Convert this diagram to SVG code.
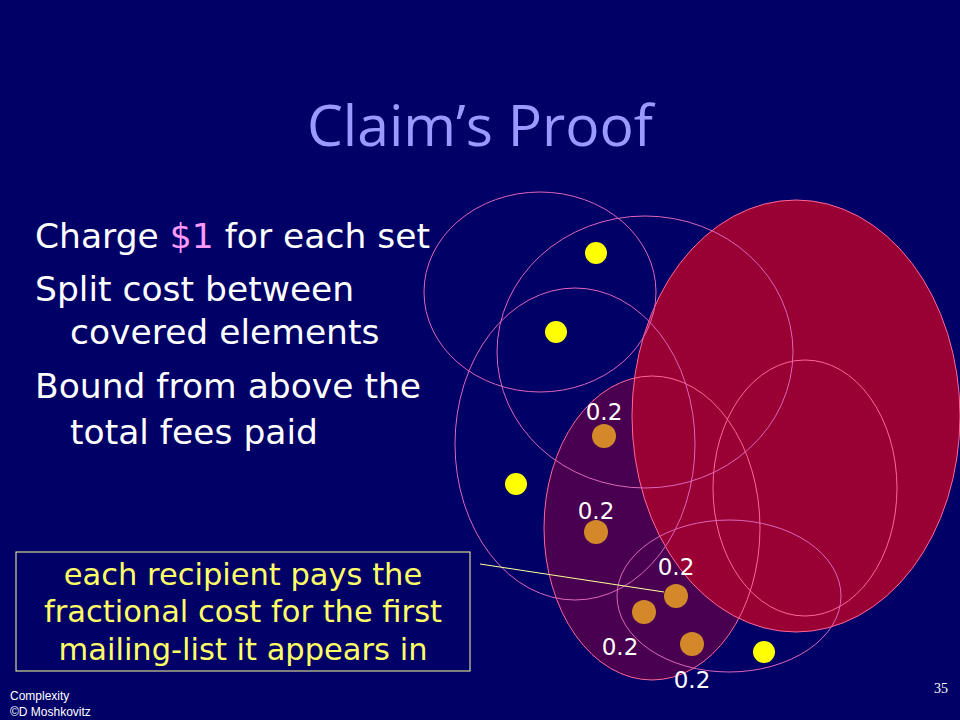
<svg xmlns="http://www.w3.org/2000/svg" width="960" height="720" viewBox="0 0 960 720">
<defs>
<style>
.bg{fill:#000066}
.set{fill:none;stroke:#dd66bb;stroke-width:1}
.setr{fill:none;stroke:#ff6699;stroke-width:1}
.ydot{fill:#ffff00}
.odot{fill:#d4882a}
.lbl{font-family:"DejaVu Sans",sans-serif;font-size:23px;fill:#ffffff;text-anchor:middle}
.body{font-family:"DejaVu Sans",sans-serif;font-size:34.5px;fill:#ffffff}
.note{font-family:"DejaVu Sans",sans-serif;font-size:30.5px;fill:#ffff66;text-anchor:middle}
.foot{font-family:"Liberation Sans",Arial,sans-serif;font-size:12px;fill:#ffffff}
</style>
</defs>
<rect class="bg" x="0" y="0" width="960" height="720"/>
<text x="480" y="146" font-family="'Open Sans','DejaVu Sans',sans-serif" font-size="57" fill="#9999ff" text-anchor="middle">Claim’s Proof</text>
<g id="bullets">
<text class="body" x="35" y="248">Charge <tspan fill="#ff99ff">$1</tspan> for each set</text>
<text class="body" x="35" y="301">Split cost between</text>
<text class="body" x="70" y="344">covered elements</text>
<text class="body" x="35" y="398">Bound from above the</text>
<text class="body" x="70" y="444">total fees paid</text>
</g>
<g id="fills">
<ellipse cx="652" cy="528" rx="108" ry="152" fill="#4a0050"/>
<ellipse cx="796" cy="416" rx="164" ry="216" fill="#990033"/>
</g>
<g id="set-big-red"><ellipse class="setr" cx="796" cy="416" rx="164" ry="216"/></g>
<g id="set-purple"><ellipse class="setr" cx="652" cy="528" rx="108" ry="152"/></g>
<g id="set-top"><ellipse class="set" cx="540" cy="292" rx="116" ry="100"/></g>
<g id="set-second"><ellipse class="set" cx="645" cy="352" rx="148" ry="136"/></g>
<g id="set-left"><ellipse class="set" cx="575" cy="444" rx="120" ry="156"/></g>
<g id="set-right-inner"><ellipse class="setr" cx="805" cy="488" rx="92" ry="128"/></g>
<g id="set-bottom"><ellipse class="set" cx="729" cy="596" rx="112" ry="76"/></g>
<g id="connectors"><line x1="480" y1="564" x2="664" y2="592" stroke="#ffff99" stroke-width="1"/></g>
<g id="elements">
<circle class="ydot" cx="596" cy="253" r="11"/>
<circle class="ydot" cx="556" cy="332" r="11"/>
<circle class="ydot" cx="516" cy="484" r="11"/>
<circle class="ydot" cx="764" cy="652" r="11"/>
<circle class="odot" cx="604" cy="436" r="12"/>
<circle class="odot" cx="596" cy="532" r="12"/>
<circle class="odot" cx="676" cy="596" r="12"/>
<circle class="odot" cx="644" cy="612" r="12"/>
<circle class="odot" cx="692" cy="644" r="12"/>
<text class="lbl" x="604" y="420">0.2</text>
<text class="lbl" x="596" y="519">0.2</text>
<text class="lbl" x="676" y="575">0.2</text>
<text class="lbl" x="620" y="655">0.2</text>
<text class="lbl" x="692" y="688">0.2</text>
</g>
<g id="note">
<rect x="16" y="552" width="454" height="119" fill="#000066" stroke="#ffff99" stroke-width="1"/>
<text class="note" x="243" y="585">each recipient pays the</text>
<text class="note" x="243" y="622">fractional cost for the first</text>
<text class="note" x="243" y="660">mailing-list it appears in</text>
</g>
<text class="foot" x="10" y="700">Complexity</text>
<text class="foot" x="10" y="716">©D Moshkovitz</text>
<text x="948" y="693" font-family="'Liberation Serif',serif" font-size="14" fill="#ffffff" text-anchor="end">35</text>
</svg>
